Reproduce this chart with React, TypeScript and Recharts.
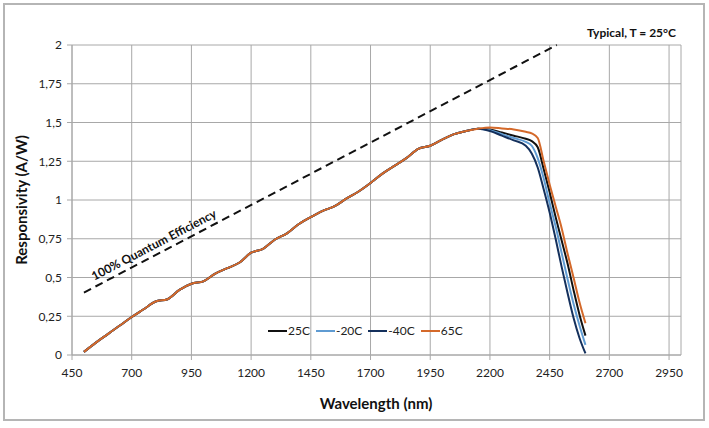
import { LineChart, Line, XAxis, YAxis, CartesianGrid, ReferenceLine, Legend } from 'recharts'

// wavelength grid (nm)
const wavelengths = [
  500, 550, 600, 650, 700, 750, 800, 850, 900, 950, 1000, 1050, 1100, 1150, 1200, 1250, 1300,
  1350, 1400, 1450, 1500, 1550, 1600, 1650, 1700, 1750, 1800, 1850, 1900, 1950, 2000, 2050,
  2100, 2150,
  2200, 2250, 2300, 2350, 2375, 2400, 2425, 2450, 2475, 2500, 2525, 2550, 2575, 2600,
]

// part of the curve where all temperatures overlap (500 - 2150 nm)
const sharedRise = [
  0.02, 0.08, 0.135, 0.19, 0.245, 0.295, 0.345, 0.36, 0.42, 0.46, 0.475, 0.525, 0.56, 0.595,
  0.66, 0.685, 0.745, 0.785, 0.845, 0.89, 0.93, 0.96, 1.01, 1.055, 1.11, 1.17, 1.22, 1.27,
  1.33, 1.35, 1.39, 1.425, 1.445, 1.46,
]

// cut-off tails (2200 - 2600 nm)
const tail25 = [1.455, 1.435, 1.415, 1.395, 1.38, 1.34, 1.2, 1.05, 0.89, 0.74, 0.59, 0.42, 0.26, 0.125]
const tailMinus20 = [1.45, 1.425, 1.4, 1.375, 1.35, 1.27, 1.14, 0.98, 0.83, 0.66, 0.49, 0.33, 0.19, 0.065]
const tailMinus40 = [1.445, 1.415, 1.385, 1.35, 1.3, 1.21, 1.07, 0.92, 0.75, 0.57, 0.4, 0.24, 0.11, 0.01]
const tail65 = [1.468, 1.462, 1.455, 1.44, 1.43, 1.4, 1.25, 1.1, 0.96, 0.82, 0.655, 0.5, 0.34, 0.205]

const resp25 = [...sharedRise, ...tail25]
const respMinus20 = [...sharedRise, ...tailMinus20]
const respMinus40 = [...sharedRise, ...tailMinus40]
const resp65 = [...sharedRise, ...tail65]

// 100% quantum efficiency line endpoints
const qeWavelengths = [500, 2480]
const qeValues = [0.403, 2]

const xTicks = [450, 700, 950, 1200, 1450, 1700, 1950, 2200, 2450, 2700, 2950]
const yTicks = [0, 0.25, 0.5, 0.75, 1, 1.25, 1.5, 1.75, 2]

const series = [
  { key: 'r25', name: '25C', color: '#111111' },
  { key: 'rm20', name: '-20C', color: '#5f9bd2' },
  { key: 'rm40', name: '-40C', color: '#14305c' },
  { key: 'r65', name: '65C', color: '#d4692a' },
]

const data = wavelengths.map((wl, i) => ({
  wl,
  r25: resp25[i],
  rm20: respMinus20[i],
  rm40: respMinus40[i],
  r65: resp65[i],
}))

const FONT = 'Lato, "Open Sans", sans-serif'
const GRID = '#a8a8a8'

function LegendRow() {
  return (
    <div style={{ display: 'flex', alignItems: 'center', gap: 6, fontFamily: FONT, fontSize: 12, color: '#222' }}>
      {series.map(s => (
        <div key={s.key} style={{ display: 'flex', alignItems: 'center' }}>
          <svg width={19} height={4}><line x1={0} y1={2} x2={19} y2={2} stroke={s.color} strokeWidth={2} /></svg>
          <span style={{ marginLeft: 1 }}>{s.name}</span>
        </div>
      ))}
    </div>
  )
}

export default function App() {
  return (
    <div style={{ position: 'absolute', left: 0, top: 0, width: 709, height: 428, background: '#fff', fontFamily: FONT }}>
      <LineChart width={709} height={428} data={data} margin={{ top: 45, right: 28, bottom: 43, left: 12 }}>
        <CartesianGrid stroke={GRID} strokeWidth={1} />
        <XAxis
          dataKey="wl"
          type="number"
          domain={[450, 3000]}
          ticks={xTicks}
          height={30}
          stroke={GRID}
          tickSize={5}
          tickMargin={8}
          tick={{ fontSize: 12, fill: '#222', fontFamily: FONT }}
        />
        <YAxis
          type="number"
          domain={[0, 2]}
          ticks={yTicks}
          width={60}
          stroke={GRID}
          tickSize={5}
          tickMargin={5}
          tick={{ fontSize: 12, fill: '#222', fontFamily: FONT }}
          tickFormatter={(v: number) => String(v).replace('.', ',')}
        />
        <ReferenceLine
          segment={[{ x: qeWavelengths[0], y: qeValues[0] }, { x: qeWavelengths[1], y: qeValues[1] }]}
          stroke="#111"
          strokeWidth={2}
          strokeDasharray="8 5"
        />
        <Legend
          layout="horizontal"
          verticalAlign="middle"
          content={() => <LegendRow />}
          wrapperStyle={{ position: 'absolute', left: 268, top: 323, width: 'auto' }}
        />
        {series.map(s => (
          <Line
            key={s.key}
            type="monotone"
            dataKey={s.key}
            name={s.name}
            stroke={s.color}
            strokeWidth={2}
            dot={false}
            isAnimationActive={false}
          />
        ))}
      </LineChart>

      <div style={{ position: 'absolute', left: 3, top: 3, width: 702, height: 418, border: '2px solid #b5b5b5', boxSizing: 'border-box', pointerEvents: 'none' }} />
      <div style={{ position: 'absolute', right: 33, top: 25, fontSize: 12, fontWeight: 700, lineHeight: '16px', color: '#111' }}>
        Typical, T = 25°C
      </div>
      <div style={{ position: 'absolute', left: 376, top: 393, transform: 'translateX(-50%)', fontSize: 15, fontWeight: 700, lineHeight: '20px', color: '#111', whiteSpace: 'nowrap' }}>
        Wavelength (nm)
      </div>
      <div style={{ position: 'absolute', left: 21, top: 200, transform: 'translate(-50%, -50%) rotate(-90deg)', fontSize: 15, fontWeight: 700, lineHeight: '20px', color: '#111', whiteSpace: 'nowrap' }}>
        Responsivity (A/W)
      </div>
      <div style={{ position: 'absolute', left: 154, top: 245, transform: 'translate(-50%, -50%) rotate(-27.6deg)', fontSize: 12, fontWeight: 700, lineHeight: '14px', color: '#111', whiteSpace: 'nowrap' }}>
        100% Quantum Efficiency
      </div>
    </div>
  )
}
